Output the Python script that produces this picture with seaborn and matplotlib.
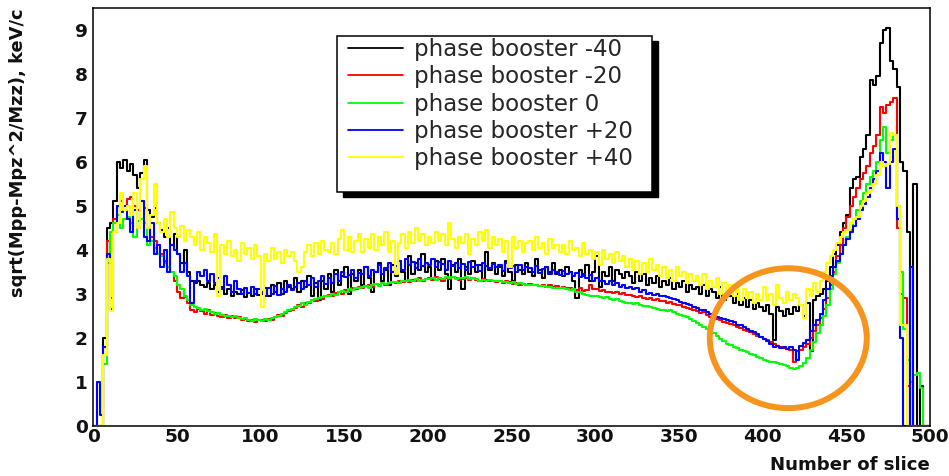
import numpy as np
import pandas as pd
import matplotlib
matplotlib.use("Agg")
import matplotlib.pyplot as plt
from matplotlib.patches import Ellipse, Rectangle
from matplotlib.ticker import MultipleLocator
import seaborn as sns

# Slice bins (2 slices per bin, 0..500)
SLICE_EDGES = np.arange(0, 501, 2)

SERIES_LABELS = ["phase booster -40", "phase booster -20", "phase booster 0",
                 "phase booster +20", "phase booster +40"]
SERIES_COLORS = ["#000000", "#FF0000", "#00FF00", "#0000FF", "#FFFF00"]

BOOSTER_M40 = [
    0, 0, 0, 2.0, 4.5, 4.6, 5.1, 6.0, 5.85, 6.05,
    5.8, 5.95, 5.7, 5.4, 5.75, 6.05, 4.9, 4.75, 4.95, 4.6,
    4.45, 4.3, 4.5, 4.1, 4.35, 3.9, 3.7, 4.0, 3.5, 3.3,
    3.25, 3.3, 3.2, 3.15, 3.25, 3.1, 3.2, 3.05, 3.15, 3.0,
    3.1, 2.95, 3.05, 3.0, 3.08, 2.92, 3.02, 2.95, 3.1, 2.98,
    3.0, 3.12, 2.95, 3.2, 3.05, 3.25, 3.0, 3.3, 3.15, 3.1,
    3.35, 3.05, 3.3, 3.15, 3.4, 2.95, 3.25, 2.85, 3.3, 3.1,
    3.45, 3.05, 3.55, 3.2, 3.4, 3.6, 3.0, 3.45, 3.3, 3.55,
    3.2, 3.6, 3.35, 3.05, 3.5, 3.7, 3.3, 3.55, 3.2, 3.65,
    3.4, 3.75, 3.5, 3.3, 3.85, 3.45, 3.7, 3.55, 3.9, 3.5,
    3.6, 3.35, 3.75, 3.55, 3.8, 3.45, 3.1, 3.65, 3.5, 3.8,
    3.1, 3.6, 3.45, 3.75, 3.5, 3.65, 3.3, 3.95, 3.55, 3.7,
    3.45, 3.6, 3.4, 3.75, 3.5, 3.3, 3.65, 3.55, 3.45, 3.7,
    3.5, 3.4, 3.8, 3.55, 3.35, 3.6, 3.5, 3.7, 3.45, 3.55,
    3.4, 3.6, 3.5, 3.3, 2.9, 3.55, 3.4, 3.65, 3.3, 3.5,
    3.85, 3.15, 3.5, 3.4, 3.6, 3.3, 3.55, 3.45, 3.35, 3.5,
    3.4, 3.25, 3.5, 3.3, 3.45, 3.2, 3.35, 3.25, 3.4, 3.15,
    3.3, 3.2, 3.35, 3.1, 3.25, 3.15, 3.3, 3.05, 3.2, 3.1,
    3.15, 3.0, 3.2, 2.95, 3.1, 3.05, 2.9, 3.15, 2.85, 3.0,
    2.95, 2.8, 3.0, 2.75, 2.9, 2.7, 2.85, 2.65, 2.8, 2.7,
    2.6, 2.75, 2.55, 1.95, 2.7, 2.6, 2.5, 2.65, 2.55, 2.7,
    2.6, 2.75, 2.5, 2.8, 1.7, 2.85, 2.95, 3.0, 3.1, 3.3,
    3.6, 3.9, 4.1, 4.4, 4.6, 4.8, 5.4, 5.6, 5.65, 6.1,
    6.3, 6.6, 7.85, 7.75, 7.95, 8.7, 9.0, 9.05, 8.3, 8.1,
    7.7, 6.0, 5.8, 4.4, 0.0, 5.5, 0.0, 0.9, 0.0, 0.0,
]

BOOSTER_M20 = [
    0, 0, 0, 1.6, 4.2, 2.9, 4.7, 5.0, 5.1, 4.9,
    5.15, 5.2, 5.0, 4.9, 5.1, 4.95, 4.5, 4.3, 4.2, 4.1,
    3.9, 3.75, 3.6, 3.5, 3.3, 3.05, 2.9, 2.92, 2.8, 2.62,
    2.58, 2.65, 2.6, 2.55, 2.62, 2.52, 2.56, 2.5, 2.48, 2.52,
    2.46, 2.5, 2.44, 2.48, 2.4, 2.43, 2.38, 2.41, 2.36, 2.4,
    2.4, 2.37, 2.43, 2.41, 2.47, 2.52, 2.5, 2.57, 2.6, 2.64,
    2.68, 2.74, 2.7, 2.78, 2.8, 2.86, 2.84, 2.9, 2.88, 2.96,
    2.98, 2.95, 3.02, 3.05, 3.0, 3.08, 3.06, 3.12, 3.1, 3.15,
    3.13, 3.18, 3.2, 3.16, 3.22, 3.2, 3.25, 3.21, 3.24, 3.27,
    3.24, 3.28, 3.26, 3.3, 3.27, 3.32, 3.29, 3.35, 3.3, 3.33,
    3.35, 3.32, 3.38, 3.34, 3.3, 3.36, 3.33, 3.37, 3.35, 3.32,
    3.34, 3.36, 3.31, 3.35, 3.32, 3.3, 3.34, 3.31, 3.28, 3.3,
    3.27, 3.29, 3.25, 3.28, 3.26, 3.22, 3.25, 3.21, 3.23, 3.2,
    3.22, 3.19, 3.21, 3.18, 3.2, 3.16, 3.19, 3.15, 3.17, 3.14,
    3.15, 3.12, 3.14, 3.1, 3.08, 3.12, 3.06, 3.09, 3.2, 3.1,
    3.1, 3.07, 3.08, 3.04, 3.05, 3.02, 3.04, 3.0, 3.01, 2.98,
    2.97, 2.95, 2.92, 2.94, 2.9, 2.88, 2.9, 2.86, 2.87, 2.84,
    2.83, 2.8, 2.81, 2.77, 2.74, 2.75, 2.71, 2.68, 2.66, 2.62,
    2.6, 2.56, 2.58, 2.52, 2.48, 2.46, 2.42, 2.4, 2.36, 2.34,
    2.32, 2.28, 2.25, 2.22, 2.18, 2.15, 2.12, 2.08, 2.05, 2.01,
    1.98, 1.95, 1.9, 1.86, 1.82, 1.8, 1.76, 1.74, 1.72, 1.45,
    1.7, 1.72, 1.78, 1.85, 2.0, 2.15, 2.3, 2.45, 2.65, 2.9,
    3.2, 3.5, 3.85, 4.1, 4.5, 4.75, 5.0, 5.2, 5.4, 5.6,
    5.75, 5.9, 6.2, 6.35, 6.6, 7.25, 7.1, 7.3, 7.35, 7.45,
    4.5, 3.0, 2.9, 0.9, 0.0, 0.0, 0.0, 0.0, 0.0, 0.0,
]

BOOSTER_0 = [
    0, 0, 0, 1.4, 3.7, 4.4, 4.6, 4.8, 4.5, 4.7,
    4.75, 4.6, 4.3, 4.65, 4.7, 4.6, 4.1, 4.2, 4.05, 3.9,
    3.85, 3.7, 3.6, 3.5, 3.4, 3.2, 3.1, 2.95, 2.85, 2.75,
    2.7, 2.68, 2.62, 2.66, 2.6, 2.58, 2.55, 2.57, 2.52, 2.5,
    2.5, 2.47, 2.5, 2.45, 2.42, 2.44, 2.4, 2.38, 2.42, 2.4,
    2.38, 2.42, 2.4, 2.45, 2.48, 2.5, 2.55, 2.58, 2.62, 2.66,
    2.7, 2.72, 2.78, 2.75, 2.82, 2.85, 2.88, 2.9, 2.92, 2.95,
    2.96, 3.0, 2.98, 3.03, 3.06, 3.05, 3.1, 3.08, 3.12, 3.14,
    3.15, 3.17, 3.14, 3.2, 3.22, 3.18, 3.24, 3.22, 3.25, 3.26,
    3.27, 3.25, 3.3, 3.28, 3.32, 3.3, 3.33, 3.29, 3.31, 3.34,
    3.33, 3.35, 3.32, 3.36, 3.34, 3.37, 3.35, 3.38, 3.33, 3.36,
    3.35, 3.37, 3.33, 3.36, 3.34, 3.3, 3.32, 3.29, 3.31, 3.28,
    3.28, 3.3, 3.26, 3.27, 3.25, 3.27, 3.23, 3.24, 3.22, 3.2,
    3.21, 3.19, 3.2, 3.17, 3.18, 3.15, 3.16, 3.13, 3.14, 3.12,
    3.12, 3.1, 3.08, 3.1, 3.05, 3.03, 3.0, 2.98, 2.96, 2.94,
    2.96, 2.93, 2.9, 2.92, 2.88, 2.86, 2.87, 2.84, 2.82, 2.8,
    2.79, 2.77, 2.78, 2.74, 2.72, 2.73, 2.7, 2.68, 2.66, 2.64,
    2.63, 2.6, 2.62, 2.58, 2.55, 2.52, 2.5, 2.47, 2.42, 2.38,
    2.33, 2.28, 2.25, 2.2, 2.15, 2.1, 2.05, 1.98, 1.93, 1.86,
    1.83, 1.8, 1.77, 1.73, 1.7, 1.67, 1.63, 1.6, 1.57, 1.53,
    1.5, 1.48, 1.45, 1.44, 1.42, 1.4, 1.37, 1.35, 1.32, 1.3,
    1.32, 1.36, 1.42, 1.55, 1.72, 1.9, 2.1, 2.3, 2.5, 2.75,
    3.1, 3.46, 3.7, 3.9, 4.1, 4.3, 4.45, 4.7, 4.9, 5.1,
    5.3, 5.5, 5.65, 5.8, 6.0, 6.5, 6.8, 6.2, 6.5, 6.6,
    5.0, 3.5, 2.2, 1.5, 1.0, 1.15, 1.2, 0.85, 0.0, 0.0,
]

BOOSTER_P20 = [
    0, 1.0, 0.25, 1.8, 3.9, 2.65, 4.4, 5.0, 4.85, 5.0,
    4.7, 4.4, 4.9, 4.5, 5.1, 4.3, 4.2, 4.6, 3.9, 4.1,
    3.6, 4.0, 3.5, 4.1, 4.0, 3.9, 3.5, 3.7, 3.4, 2.8,
    3.3, 3.5, 3.4, 3.55, 3.3, 3.45, 3.25, 3.35, 3.1, 3.4,
    3.2, 3.05, 3.3, 3.1, 3.0, 3.12, 3.02, 3.15, 3.0, 3.1,
    3.05, 2.95, 3.12, 3.0, 3.18, 2.98, 3.1, 3.05, 3.2, 3.08,
    3.15, 3.25, 3.1, 3.3, 3.2, 3.35, 3.15, 3.28, 3.4, 3.22,
    3.35, 3.25, 3.45, 3.3, 3.5, 3.38, 3.42, 3.55, 3.35, 3.48,
    3.45, 3.6, 3.4, 3.55, 3.5, 3.65, 3.45, 3.58, 3.7, 3.5,
    3.62, 3.75, 3.55, 3.8, 3.65, 3.72, 3.58, 3.78, 3.62, 3.7,
    3.65, 3.78, 3.6, 3.72, 3.68, 3.55, 3.75, 3.62, 3.7, 3.58,
    3.68, 3.55, 3.72, 3.6, 3.66, 3.52, 3.7, 3.62, 3.58, 3.68,
    3.6, 3.65, 3.52, 3.7, 3.58, 3.62, 3.5, 3.66, 3.55, 3.6,
    3.58, 3.5, 3.62, 3.48, 3.56, 3.6, 3.45, 3.55, 3.5, 3.42,
    3.52, 3.45, 3.5, 3.4, 3.48, 3.38, 3.45, 3.35, 3.42, 3.3,
    3.35, 3.28, 3.3, 3.22, 3.28, 3.2, 3.25, 3.15, 3.2, 3.12,
    3.15, 3.1, 3.12, 3.05, 3.08, 3.0, 3.02, 2.98, 3.0, 2.95,
    2.96, 2.92, 2.9, 2.88, 2.85, 2.82, 2.8, 2.76, 2.74, 2.7,
    2.68, 2.64, 2.62, 2.58, 2.55, 2.52, 2.48, 2.45, 2.42, 2.4,
    2.38, 2.35, 2.3, 2.28, 2.24, 2.2, 2.16, 2.12, 2.08, 2.02,
    1.98, 1.92, 1.85, 1.78, 1.82, 1.76, 1.8, 1.74, 1.78, 1.72,
    1.5, 1.82, 1.88, 1.95, 2.15, 2.3, 2.4, 2.55, 2.85, 3.1,
    3.4, 3.6, 3.75, 3.9, 4.1, 4.25, 4.4, 4.55, 4.7, 4.9,
    5.05, 5.2, 5.4, 5.6, 5.8, 6.2, 6.0, 5.4, 6.0, 6.3,
    4.7, 2.0, 0.0, 0.0, 3.6, 0.0, 0.0, 0.0, 0.0, 0.0,
]

BOOSTER_P40 = [
    0, 0, 0, 1.6, 3.8, 2.6, 4.4, 4.6, 5.3, 4.9,
    5.0, 4.8, 5.3, 4.5, 5.6, 5.9, 4.5, 4.8, 5.5, 4.6,
    4.4, 4.7, 4.3, 4.85, 4.5, 4.3, 4.55, 4.2, 4.45, 4.3,
    4.1, 4.4, 4.0, 4.3, 4.15, 3.95, 4.35, 2.95, 4.1, 3.9,
    4.2, 3.85, 4.0, 3.75, 4.15, 3.9, 4.05, 3.8, 4.1, 3.85,
    2.7, 3.9, 3.75, 4.05, 3.8, 3.95, 3.7, 4.0, 3.85, 3.95,
    3.75, 3.5, 3.6, 3.95, 4.1, 3.85, 4.15, 3.9, 4.2, 4.0,
    3.95, 4.15, 3.9, 4.25, 4.45, 4.0, 4.3, 3.95, 4.2, 4.35,
    3.95, 4.25, 4.05, 4.35, 4.0, 4.3, 4.1, 4.4, 3.95, 4.2,
    3.45, 4.15, 4.35, 4.05, 4.4, 4.15, 4.5, 4.2, 4.35, 4.1,
    4.3, 4.15, 4.4, 4.2, 4.35, 4.1, 4.6, 4.25, 4.05, 4.3,
    4.15, 4.35, 3.9, 4.25, 4.1, 4.4, 4.2, 4.45, 4.05, 4.3,
    4.1, 4.25, 3.95, 4.2, 3.6, 4.3, 4.05, 4.2, 3.95, 4.15,
    4.2, 4.0, 4.3, 4.05, 4.15, 3.9, 4.25, 4.05, 4.1, 3.95,
    4.1, 3.9, 4.2, 4.0, 4.05, 3.85, 4.15, 3.9, 4.0, 3.8,
    3.95, 3.65, 4.0, 3.8, 3.9, 3.7, 3.95, 3.75, 3.85, 3.6,
    3.8, 3.55, 3.75, 3.45, 3.7, 3.5, 3.8, 3.55, 3.65, 3.4,
    3.6, 3.35, 3.55, 3.3, 3.6, 3.4, 3.5, 3.25, 3.45, 3.3,
    3.4, 3.2, 3.45, 3.1, 3.3, 3.15, 3.35, 3.0, 3.25, 3.05,
    3.2, 2.95, 3.15, 2.85, 3.1, 2.9, 3.05, 2.8, 3.0, 2.85,
    3.15, 2.85, 3.0, 2.75, 3.2, 2.9, 2.8, 3.05, 2.85, 3.0,
    2.9, 2.75, 2.45, 3.1, 2.95, 3.25, 3.05, 3.3, 3.5, 3.7,
    3.85, 4.0, 4.15, 4.3, 4.4, 4.45, 4.6, 4.7, 4.75, 5.0,
    5.1, 5.3, 5.35, 5.5, 5.7, 6.0, 5.9, 5.95, 6.65, 6.6,
    5.0, 2.3, 2.3, 0.0, 0.0, 0.0, 0.0, 0.0, 0.0, 0.0,
]

SERIES_VALUES = [BOOSTER_M40, BOOSTER_M20, BOOSTER_0, BOOSTER_P20, BOOSTER_P40]

# Long table of step outlines (left bin edge, last value repeated at slice 500)
frames = []
for label, vals in zip(SERIES_LABELS, SERIES_VALUES):
    vals = list(vals)
    frames.append(pd.DataFrame({
        "slice": SLICE_EDGES,
        "value": vals + [vals[-1]],
        "series": label,
    }))
df = pd.concat(frames, ignore_index=True)

sns.set_style("white")
plt.rcParams["font.family"] = ["DejaVu Sans"]

W, H = 949, 476
fig = plt.figure(figsize=(W / 100, H / 100), dpi=100)
ax = fig.add_axes([93.3 / W, (H - 425.7) / H, (930 - 93.3) / W, (425.7 - 8.3) / H])

sns.lineplot(data=df, x="slice", y="value", hue="series",
             hue_order=SERIES_LABELS, palette=SERIES_COLORS,
             estimator=None, drawstyle="steps-post", linewidth=1.5,
             legend=False, ax=ax)

ax.set_xlim(0, 500)
ax.set_ylim(0, 9.49)
ax.set_xlabel("")
ax.set_ylabel("")
ax.set_xticks(np.arange(0, 501, 50))
ax.set_yticks(np.arange(0, 10, 1))
ax.xaxis.set_minor_locator(MultipleLocator(10))
ax.yaxis.set_minor_locator(MultipleLocator(0.2))
for spine in ax.spines.values():
    spine.set_visible(True)
    spine.set_color("black")
    spine.set_linewidth(1.1)

ax.tick_params(axis="x", which="major", direction="in", length=8.9, width=1.1,
               pad=2, labelsize=13.3, top=False, colors="black")
ax.tick_params(axis="x", which="minor", direction="in", length=5.3, width=1.1,
               top=False)
ax.tick_params(axis="y", which="major", direction="in", length=18.5, width=1.1,
               pad=4, labelsize=13.3, right=False, colors="black")
ax.tick_params(axis="y", which="minor", direction="in", length=9.4, width=1.1,
               right=False)
for lab in ax.get_xticklabels() + ax.get_yticklabels():
    lab.set_fontweight("bold")
    lab.set_color("#111111")

# Axis titles in ROOT placement
fig.text(930 / W, 1 - 465 / H, "Number of slice", ha="right", va="center",
         fontsize=13.1, fontweight="bold", color="#111111")
fig.text(18 / W, 1 - 8 / H, "sqrt(Mpp-Mpz^2/Mzz), keV/c", rotation=90,
         ha="center", va="top", fontsize=12.9, fontweight="bold", color="#111111")

# Legend box with solid drop shadow
lx0, ly0, lx1, ly1 = 336.7, 35.7, 651.7, 192.3
fig.patches.append(Rectangle(((lx0 + 6) / W, 1 - (ly1 + 5) / H), (lx1 - lx0) / W,
                             (ly1 - ly0) / H, transform=fig.transFigure,
                             facecolor="black", edgecolor="black", zorder=5))
fig.patches.append(Rectangle((lx0 / W, 1 - ly1 / H), (lx1 - lx0) / W,
                             (ly1 - ly0) / H, transform=fig.transFigure,
                             facecolor="white", edgecolor="black", lw=1.1, zorder=6))
handles = ax.get_lines()[:len(SERIES_LABELS)]
leg = fig.legend(handles, SERIES_LABELS, loc="upper left",
                 bbox_to_anchor=(347.7 / W, 1 - 38 / H), frameon=False,
                 borderpad=0, borderaxespad=0, handlelength=2.4,
                 handletextpad=0.5, labelspacing=0.19, fontsize=16.5)
leg.set_zorder(7)
for line in leg.get_lines():
    line.set_linewidth(1.3)

# Highlighted dip region
ax.add_patch(Ellipse((415.3, 1.99), 93.8, 3.18, fill=False,
                     edgecolor="#F7941D", linewidth=4.3, zorder=10, clip_on=False))

fig.savefig("out.png", dpi=100, facecolor="white")
